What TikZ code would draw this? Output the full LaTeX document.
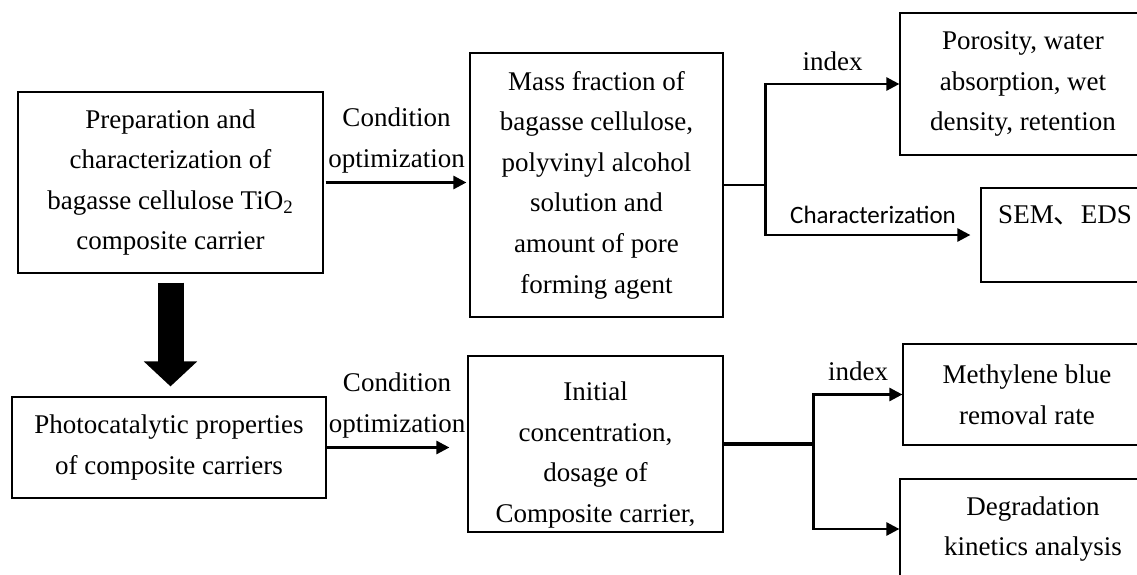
\documentclass[tikz,border=0pt]{standalone}
\usepackage{fontspec}
\setmainfont{Liberation Serif}
\newfontfamily\cjkfont{Noto Sans CJK SC}
\newfontfamily\calfont{Carlito}
\usepackage{tikz}
\usetikzlibrary{arrows.meta, positioning, calc}
\tikzset{
  bc-box/.style={
    rectangle, draw=black, line width=0.6pt, fill=white,
    align=center, inner sep=0pt, font=\fontsize{13.5}{20.3}\selectfont
  },
  bc-text/.style={align=center, inner sep=0pt, font=\fontsize{13.5}{20.3}\selectfont},
  bc-flow/.style={-{Triangle[length=6.5pt,width=6.5pt]}, line width=1.3pt},
  bc-branch/.style={line width=1.4pt},
  bc-big/.style={-{Triangle[length=12.5pt,width=26pt]}, line width=13pt},
}

\begin{document}
\begin{tikzpicture}[x=0.5pt, y=-0.5pt]
  \useasboundingbox (0,0) rectangle (1137,574);
  \clip (0,0) rectangle (1137,574);
  \fill[white] (0,0) rectangle (1137,574);

  % left column
  \node[bc-box, minimum width=152.5pt, minimum height=90.5pt] (prep) at (170.5,182.5)
    {Preparation and\\characterization of\\bagasse cellulose TiO\textsubscript{2}\\composite carrier};
  \node[bc-box, minimum width=157pt, minimum height=50.5pt] (photo) at (169,447.5)
    {Photocatalytic properties\\of composite carriers};

  % middle column
  \node[bc-box, minimum width=126.5pt, minimum height=132pt] (mass) at (596.5,185)
    {Mass fraction of\\bagasse cellulose,\\polyvinyl alcohol\\solution and\\amount of pore\\forming agent};
  \node[bc-box, minimum width=127.5pt, minimum height=88pt] (init) at (595.5,444) {};
  \begin{scope}
    \clip (init.north west) rectangle ($(init.south east)+(0,-4)$);
    \node[bc-text] (inittext) at ($(init.center)+(0,11)$)
      {Initial\\concentration,\\dosage of\\Composite carrier,};
  \end{scope}

  % right column
  \node[bc-box, minimum width=123pt, minimum height=71pt] (poro) at (1023,84)
    {Porosity, water\\absorption, wet\\density, retention};
  \node[bc-box, minimum width=84pt, minimum height=47pt] (sem) at (1065,235)
    {SEM{\cjkfont 、}EDS\\ };
  \node[bc-box, minimum width=124pt, minimum height=50.5pt] (methy) at (1027,394.5)
    {Methylene blue\\removal rate};
  \node[bc-box, minimum width=133pt, minimum height=50pt] (degr) at (1033,529)
    {Degradation\\kinetics analysis};

  % connectors
  \draw[bc-big, shorten <=4.5pt, shorten >=5pt] (prep.south) -- (prep.south |- photo.north);
  \draw[bc-flow, shorten <=1pt, shorten >=1.5pt] (prep.east) -- (prep.east -| mass.west)
    node[midway, above=4pt, bc-text] (cond1) {Condition\\optimization};
  \draw[bc-flow, shorten >=9pt] (photo.east) -- (photo.east -| init.west)
    node[midway, above=4pt, bc-text] (cond2) {Condition\\optimization};

  \coordinate (j1) at ($(mass.east)+(42,0)$);
  \draw[bc-branch] (mass.east) -- (j1);
  \draw[bc-flow] (j1) |- (poro.west) node[pos=0.75, above=6pt, bc-text] (idx1) {index};
  \draw[bc-flow, shorten >=5pt] (j1) |- (sem.west)
    node[pos=0.75, above=5pt, inner sep=0pt, font=\calfont\fontsize{12.5}{15}\selectfont] (charz) {Characterization};

  \coordinate (j2) at ($(init.east)+(90,0)$);
  \draw[line width=2pt] (init.east) -- (j2);
  \draw[bc-flow] (j2) |- (methy.west) node[pos=0.75, above=6pt, bc-text] (idx2) {index};
  \draw[bc-flow] (j2) |- (degr.west);
\end{tikzpicture}
\end{document}
